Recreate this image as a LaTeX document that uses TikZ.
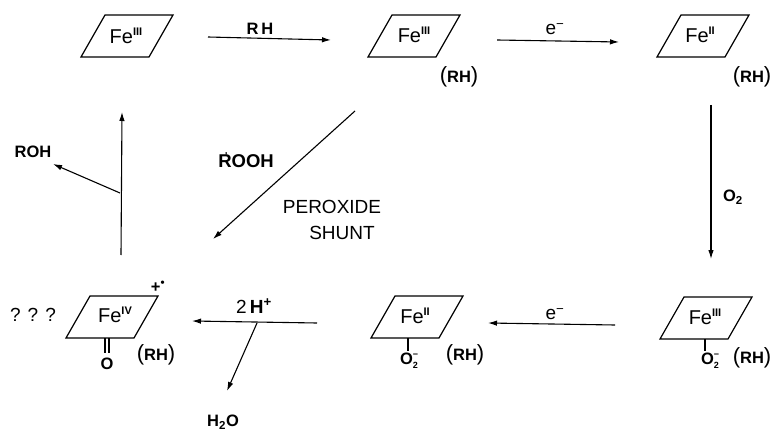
\documentclass[tikz,border=0pt]{standalone}
\usepackage{fontspec}
\setmainfont{Liberation Sans}
\usetikzlibrary{arrows.meta}
\tikzset{
 x=1pt,y=-1pt,
 conn/.style={line width=1.1pt,-{Latex[length=9pt,width=5.5pt]}},
 plain/.style={line width=1.1pt},
 plane/.style={line width=1.2pt,line join=miter},
 fe/.style={font=\fontsize{20}{20}\selectfont,inner sep=0pt},
 lab/.style={font=\fontsize{16.5}{17}\selectfont\bfseries,inner sep=0pt},
 thin lab/.style={font=\fontsize{19}{19}\selectfont,inner sep=0pt},
 pers/.pic={\draw[plane] (-46,21)--(22,21)--(46,-21)--(-22,-21)--cycle;}
}
\newcommand{\ox}[1]{\raisebox{8pt}{\fontsize{11}{11}\selectfont\bfseries #1}}
\newcommand{\ootwo}{O\raisebox{7pt}{\rlap{\fontsize{9}{9}\selectfont −}}\raisebox{-4pt}{\fontsize{9}{9}\selectfont 2}\hspace{3pt}}
\newcommand{\prh}{{\fontsize{22}{22}\selectfont\mdseries(}RH{\fontsize{22}{22}\selectfont\mdseries)}}
\begin{document}
\begin{tikzpicture}
\useasboundingbox (0,0) rectangle (775,430);
\fill[white] (0,0) rectangle (775,430);
% planes
\pic at (127,36) {pers};
\pic at (414,36) {pers};
\pic at (703,36) {pers};
\pic at (112,317) {pers};
\pic at (417,317) {pers};
\pic at (706,318) {pers};
\node[fe] (a) at (126,36) {Fe\ox{III}};
\node[fe] (b) at (414,35) {Fe\ox{III}};
\node[fe] (c) at (700,35) {Fe\ox{II}};
\node[fe] (d) at (115,315) {Fe\ox{IV}};
\node[fe] (e) at (415,316) {Fe\ox{II}};
\node[fe] (f) at (705,317) {Fe\ox{III}};
\node[lab] (rh1) at (459,77) {\prh};
\node[lab] (rh2) at (752,77) {\prh};
\node[lab] (rh3) at (156,355) {\prh};
\node[lab] (rh4) at (465,355) {\prh};
\node[lab] (rh5) at (752,358) {\prh};
\node[lab] (o1) at (107,364) {O};
\node[lab] (o2) at (409,361) {\ootwo};
\node[lab] (o3) at (710,361) {\ootwo};
\draw[plain] (105,338)--(105,353) (109,338)--(109,353);
\draw[plain] (408,338)--(408,351);
\draw[plain] (705,339)--(705,351);
\node[lab] (plus) at (158,287) {+\textsuperscript{•}};
\node[thin lab] (q) at (33,315) {? ? ?};
% arrows
\coordinate (a1) at (208,37); \coordinate (a2) at (331,40);
\draw[conn] (a1)--(a2);
\node[lab] (rhl) at (260,29) {R\,H};
\coordinate (b1) at (497,40); \coordinate (b2) at (619,42);
\draw[conn] (b1)--(b2);
\node[thin lab] (e1l) at (555,29) {e\textsuperscript{−}};
\coordinate (c1) at (711,105); \coordinate (c2) at (711,259);
\draw[conn] (c1)--(c2);
\node[lab] (o2l) at (733,197) {O\textsubscript{2}};
\coordinate (d1) at (355,111); \coordinate (d2) at (213,239);
\draw[conn] (d1)--(d2);
\node[lab,font=\fontsize{18.5}{19}\selectfont\bfseries] (rooh) at (246,160) {R\llap{\raisebox{8pt}{\fontsize{10}{10}\selectfont\textquotesingle\hspace{4pt}}}OOH};
\node[thin lab] (pe) at (332,207) {PEROXIDE};
\node[thin lab] (sh) at (342,233) {SHUNT};
\coordinate (e1) at (615,325); \coordinate (e2) at (488,323);
\draw[conn] (e1)--(e2);
\node[thin lab] (e2l) at (555,314) {e\textsuperscript{−}};
\coordinate (f1) at (317,323); \coordinate (f2) at (192,321);
\draw[conn] (f1)--(f2);
\coordinate (f3) at (257,323); \coordinate (f4) at (227,391);
\draw[conn] (f3)--(f4);
\node[thin lab] (h) at (254,306) {2\,\textbf{H}\textsuperscript{\textbf{+}}};
\node[lab] (w) at (223,422) {H\textsubscript{2}O};
\coordinate (g1) at (121,255); \coordinate (g2) at (122,112);
\draw[conn] (g1)--(g2);
\coordinate (g3) at (120,193); \coordinate (g4) at (53,164);
\draw[conn] (g3)--(g4);
\node[lab] (roh) at (33,152) {ROH};
\end{tikzpicture}
\end{document}
